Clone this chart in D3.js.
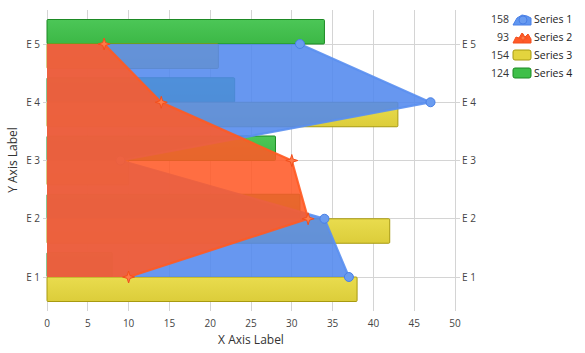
<!DOCTYPE html>
<html><head><meta charset="utf-8">
<script src="https://cdn.jsdelivr.net/npm/d3@7"></script>
<style>body{margin:0;background:#fff}svg{display:block;font-family:"Open Sans","Noto Sans",sans-serif}</style>
</head><body><svg id="c" width="585" height="353"></svg>
<script>
const categories = ["E 1","E 2","E 3","E 4","E 5"];
const series1 = [37, 34, 9, 47, 31];   // blue area
const series2 = [10, 32, 30, 14, 7];   // orange area
const series3 = [38, 42, 10, 43, 21];  // yellow bars
const series4 = [8, 31, 28, 23, 34];   // green bars
const seriesNames = ["Series 1","Series 2","Series 3","Series 4"];
const xTicks = [0,5,10,15,20,25,30,35,40,45,50];

const svg = d3.select("#c");
const x = d3.scaleLinear().domain([0,50]).range([47,455]);
const y = d3.scalePoint().domain(categories).range([277,44]);
const barH = 24.5;

const defs = svg.append("defs");
function grad(id, c1, c2){
  const g = defs.append("linearGradient").attr("id",id).attr("x1",0).attr("y1",0).attr("x2",0).attr("y2",1);
  g.append("stop").attr("offset","0%").attr("stop-color",c1);
  g.append("stop").attr("offset","100%").attr("stop-color",c2);
}
grad("gy","#e9dc4e","#dccd3a");
grad("gg","#4cc657","#3cb846");

// grid
const grid = svg.append("g");
grid.selectAll("line.v").data(xTicks).join("line")
  .attr("x1",d=>x(d)).attr("x2",d=>x(d)).attr("y1",10).attr("y2",311)
  .attr("stroke","#d4d4d4").attr("stroke-width",1).attr("shape-rendering","crispEdges");
grid.selectAll("line.h").data(categories).join("line")
  .attr("x1",43).attr("x2",460).attr("y1",d=>y(d)).attr("y2",d=>y(d))
  .attr("stroke","#d4d4d4").attr("stroke-width",1).attr("shape-rendering","crispEdges");

// bars
const data = categories.map((c,i)=>({c, s1:series1[i], s2:series2[i], s3:series3[i], s4:series4[i]}));
svg.append("g").selectAll("rect").data(data).join("rect")
  .attr("x",x(0)).attr("y",d=>y(d.c)-barH).attr("width",d=>x(d.s4)-x(0)).attr("height",barH)
  .attr("fill","url(#gg)").attr("stroke","#1d8a24").attr("stroke-width",1).attr("rx",1);
svg.append("g").selectAll("rect").data(data).join("rect")
  .attr("x",x(0)).attr("y",d=>y(d.c)).attr("width",d=>x(d.s3)-x(0)).attr("height",barH)
  .attr("fill","url(#gy)").attr("stroke","#a89a10").attr("stroke-width",1).attr("rx",1);

// areas
function drawArea(key, fill, line, op){
  const area = d3.area().y(d=>y(d.c)).x0(x(0)).x1(d=>x(d[key]));
  const ln = d3.line().y(d=>y(d.c)).x(d=>x(d[key]));
  svg.append("path").datum(data).attr("d",area).attr("fill",fill).attr("fill-opacity",op);
  svg.append("path").datum(data).attr("d",ln).attr("fill","none").attr("stroke",line).attr("stroke-width",2.2).attr("stroke-opacity",0.9);
}
drawArea("s1","#5087ee","#5a8ff0",0.87);
svg.append("g").selectAll("circle").data(data).join("circle")
  .attr("cx",d=>x(d.s1)).attr("cy",d=>y(d.c)).attr("r",4.5)
  .attr("fill","#6a9cf0").attr("stroke","#4a80e6").attr("stroke-width",1);
drawArea("s2","#ff5a28","#ff5a22",0.88);
const star = "M0,-6 L1.4,-1.4 L6,0 L1.4,1.4 L0,6 L-1.4,1.4 L-6,0 L-1.4,-1.4 Z";
svg.append("g").selectAll("path").data(data).join("path")
  .attr("transform",d=>`translate(${x(d.s2)},${y(d.c)})`).attr("d",star)
  .attr("fill","#ff7a48").attr("stroke","#f24f1c").attr("stroke-width",1);

// axes labels
const tc = "#444";
svg.append("g").selectAll("text").data(xTicks).join("text")
  .attr("x",d=>x(d)).attr("y",327).attr("text-anchor","middle")
  .attr("font-size",10).attr("fill",tc).text(d=>d);
svg.append("g").selectAll("text").data(categories).join("text")
  .attr("x",40).attr("y",d=>y(d)+3.5).attr("text-anchor","end")
  .attr("font-size",10).attr("fill",tc).text(d=>d);
svg.append("g").selectAll("text").data(categories).join("text")
  .attr("x",462).attr("y",d=>y(d)+3.5).attr("text-anchor","start")
  .attr("font-size",10).attr("fill",tc).text(d=>d);
svg.append("text").attr("x",x(25)).attr("y",344).attr("text-anchor","middle")
  .attr("font-size",12).attr("fill","#333").text("X Axis Label");
svg.append("text").attr("transform","translate(17,160) rotate(-90)").attr("text-anchor","middle")
  .attr("font-size",12).attr("fill","#333").text("Y Axis Label");

// legend
const totals = [d3.sum(series1), d3.sum(series2), d3.sum(series3), d3.sum(series4)];
const lg = svg.append("g").attr("font-size",10.5).attr("fill","#222");
seriesNames.forEach((n,i)=>{
  const ly = 19 + i*18;
  lg.append("text").attr("x",509).attr("y",ly+4).attr("text-anchor","end").attr("fill","#333").text(totals[i]);
  lg.append("text").attr("x",534).attr("y",ly+4).attr("fill","#222").text(n);
  const g = lg.append("g").attr("transform",`translate(513,${ly})`);
  if(i===0){
    g.append("path").attr("d","M0,6 L4,-1 L9,-4 L14,-3 L18,-1 L18,6 Z").attr("fill","#6096f0").attr("stroke","#4a80e6");
    g.append("circle").attr("cx",10).attr("cy",1).attr("r",4).attr("fill","#6a9cf0").attr("stroke","#4a80e6");
  } else if(i===1){
    g.append("path").attr("d","M0,6 L3,0 L6,1 L9,-4 L12,0 L15,-3 L18,2 L18,6 Z").attr("fill","#ff5a28").attr("stroke","#f24f1c");
    g.append("path").attr("transform","translate(10,1) scale(0.7)").attr("d",star).attr("fill","#ff7a48").attr("stroke","#f24f1c");
  } else {
    g.append("rect").attr("x",0).attr("y",-5).attr("width",18).attr("height",10).attr("rx",2)
      .attr("fill",i===2?"#e3d43e":"#3fbf49").attr("stroke",i===2?"#a89a10":"#1d8a24");
  }
});
</script></body></html>
